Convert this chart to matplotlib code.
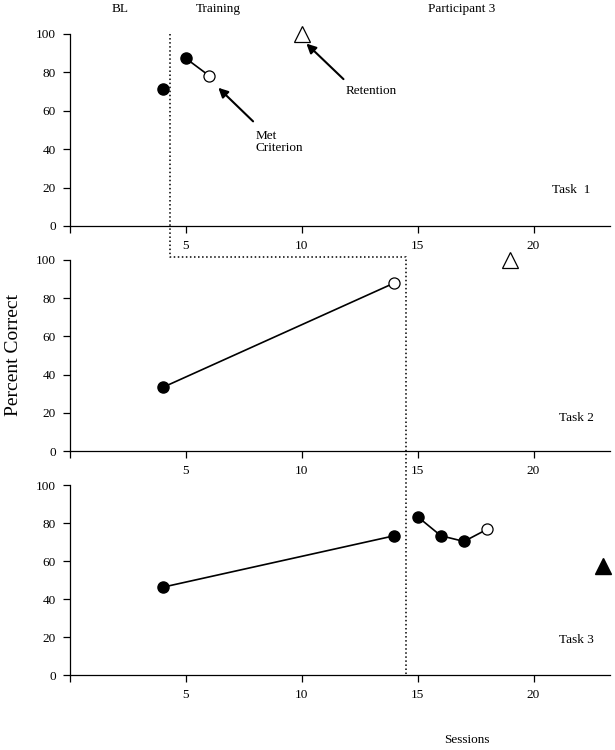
import matplotlib
matplotlib.use("Agg")
import matplotlib.pyplot as plt
from matplotlib.lines import Line2D

plt.rcParams['font.family'] = ['Liberation Serif', 'DejaVu Serif']

# Task 1
t1_bl_x = [4]
t1_bl_y = [71.4]
t1_tr_x = [5, 6]
t1_tr_y = [87.3, 78.3]
t1_ret_x = [10]
t1_ret_y = [100]

# Task 2
t2_bl_x = [4, 14]
t2_bl_y = [33.3, 88]
t2_ret_x = [19]
t2_ret_y = [100]

# Task 3
t3_bl_x = [4, 14]
t3_bl_y = [46.2, 73.3]
t3_tr_x = [15, 16, 17, 18]
t3_tr_y = [83.3, 73.3, 70.3, 76.7]
t3_ret_x = [23]
t3_ret_y = [57.5]

# phase change positions (sessions)
phase1_x = 4.3
phase2_x = 14.5
phase_top = 101.5

xticks = [0, 5, 10, 15, 20]
xticklabels = ['', '5', '10', '15', '20']
yticks = [0, 20, 40, 60, 80, 100]

fig = plt.figure(figsize=(6.15, 7.5), dpi=100)
left, width = 70 / 615, 540 / 615
ax1 = fig.add_axes([left, 1 - 226 / 750, width, 192 / 750])
ax2 = fig.add_axes([left, 1 - 451 / 750, width, 191 / 750])
ax3 = fig.add_axes([left, 1 - 675 / 750, width, 190 / 750])

for ax in (ax1, ax2, ax3):
    ax.set_xlim(0, 23.3)
    ax.set_ylim(0, 100)
    ax.spines['top'].set_visible(False)
    ax.spines['right'].set_visible(False)
    ax.spines['left'].set_linewidth(0.9)
    ax.spines['bottom'].set_linewidth(0.9)
    ax.set_xticks(xticks)
    ax.set_xticklabels(xticklabels)
    ax.set_yticks(yticks)
    ax.tick_params(direction='out', length=5, width=0.9, labelsize=9.5, pad=5)

ms = 8
ax1.plot(t1_bl_x, t1_bl_y, 'o', color='black', ms=ms)
ax1.plot(t1_tr_x, t1_tr_y, '-', color='black', lw=1.2)
ax1.plot(t1_tr_x[:-1], t1_tr_y[:-1], 'o', color='black', ms=ms)
ax1.plot(t1_tr_x[-1:], t1_tr_y[-1:], 'o', mfc='white', mec='black', ms=ms, mew=0.9)
ax1.plot(t1_ret_x, t1_ret_y, '^', mfc='white', mec='black', ms=11, mew=0.9, clip_on=False)

ax2.plot(t2_bl_x, t2_bl_y, '-', color='black', lw=1.2)
ax2.plot(t2_bl_x[:-1], t2_bl_y[:-1], 'o', color='black', ms=ms)
ax2.plot(t2_bl_x[-1:], t2_bl_y[-1:], 'o', mfc='white', mec='black', ms=ms, mew=0.9)
ax2.plot(t2_ret_x, t2_ret_y, '^', mfc='white', mec='black', ms=11, mew=0.9, clip_on=False)

ax3.plot(t3_bl_x, t3_bl_y, '-o', color='black', lw=1.2, ms=ms)
ax3.plot(t3_tr_x, t3_tr_y, '-', color='black', lw=1.2)
ax3.plot(t3_tr_x[:-1], t3_tr_y[:-1], 'o', color='black', ms=ms)
ax3.plot(t3_tr_x[-1:], t3_tr_y[-1:], 'o', mfc='white', mec='black', ms=ms, mew=0.9)
ax3.plot(t3_ret_x, t3_ret_y, '^', color='black', ms=11, clip_on=False)


# phase change line, drawn in figure coords from data points of each panel
def to_fig(ax, x, y):
    disp = ax.transData.transform((x, y))
    return fig.transFigure.inverted().transform(disp)


pts = [to_fig(ax1, phase1_x, 100),
       to_fig(ax2, phase1_x, phase_top),
       to_fig(ax2, phase2_x, phase_top),
       to_fig(ax3, phase2_x, 0)]
fig.add_artist(Line2D([p[0] for p in pts], [p[1] for p in pts],
                      transform=fig.transFigure, linestyle=':', color='black',
                      lw=1.1, zorder=5))

# annotations
arr = dict(arrowstyle='-|>', color='black', lw=1.5, mutation_scale=14, shrinkA=0, shrinkB=0)
ax1.annotate('', xy=(6.4, 72), xytext=(7.9, 54.5), arrowprops=arr)
ax1.text(8.0, 50, 'Met\nCriterion', fontsize=9.5, va='top', ha='left', linespacing=0.95)
ax1.annotate('', xy=(10.2, 95), xytext=(11.8, 76.5), arrowprops=arr)
ax1.text(11.9, 70.5, 'Retention', fontsize=9.5, va='center', ha='left')

ax1.text(20.8, 19, 'Task  1', fontsize=9.5, va='center', ha='left')
ax2.text(21.1, 17.5, 'Task 2', fontsize=9.5, va='center', ha='left')
ax3.text(21.1, 18.5, 'Task 3', fontsize=9.5, va='center', ha='left')

fig.text(120 / 615, 1 - 9 / 750, 'BL', fontsize=9.5, ha='center', va='center')
fig.text(218 / 615, 1 - 9 / 750, 'Training', fontsize=9.5, ha='center', va='center')
fig.text(462 / 615, 1 - 9 / 750, 'Participant 3', fontsize=9.5, ha='center', va='center')
fig.text(467 / 615, 1 - 740 / 750, 'Sessions', fontsize=9.5, ha='center', va='center')
fig.text(14 / 615, 1 - 355 / 750, 'Percent Correct', fontsize=14, ha='center', va='center',
         rotation=90)

fig.savefig('out.png', dpi=100)
